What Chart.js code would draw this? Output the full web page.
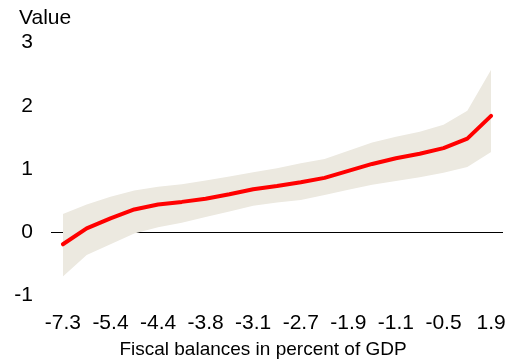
<!DOCTYPE html>
<html>
<head>
<meta charset="utf-8">
<script src="https://cdn.jsdelivr.net/npm/chart.js@4/dist/chart.umd.min.js"></script>
<style>
  html, body { margin: 0; padding: 0; background: #ffffff; }
  #wrap { width: 509px; height: 364px; }
</style>
</head>
<body>
<div id="wrap"><canvas id="c"></canvas></div>
<script>
const categories = ['-7.3','','-5.4','','-4.4','','-3.8','','-3.1','','-2.7','','-1.9','','-1.1','','-0.5','','1.9'];
const estimate = [-0.19, 0.06, 0.22, 0.36, 0.44, 0.48, 0.53, 0.60, 0.68, 0.73, 0.79, 0.86, 0.97, 1.08, 1.17, 1.24, 1.33, 1.48, 1.84];
const upperBand = [0.29, 0.44, 0.56, 0.66, 0.72, 0.76, 0.82, 0.88, 0.95, 1.01, 1.09, 1.16, 1.29, 1.42, 1.51, 1.59, 1.70, 1.92, 2.57];
const lowerBand = [-0.70, -0.36, -0.19, -0.02, 0.08, 0.15, 0.24, 0.33, 0.42, 0.47, 0.51, 0.59, 0.67, 0.75, 0.81, 0.87, 0.94, 1.03, 1.27];
const yTicks = [-1, 0, 1, 2, 3];
const xTitle = 'Fiscal balances in percent of GDP';
const yTitle = 'Value';

const FAMILY = '"Liberation Sans", Arial, sans-serif';
const TICK_FONT = { family: FAMILY, size: 21 };
const BAND = 'rgb(236,233,224)';

const axisTitlesPlugin = {
  id: 'axisTitles',
  afterDraw(chart) {
    const ctx = chart.ctx;
    const ys = chart.scales.y;
    const area = chart.chartArea;
    ctx.save();
    ctx.fillStyle = '#000';
    ctx.textBaseline = 'middle';
    ctx.font = '21px ' + FAMILY;
    ctx.textAlign = 'left';
    ctx.fillText(yTitle, ys.left + 6, area.top - 24);
    ctx.font = '19px ' + FAMILY;
    ctx.textAlign = 'center';
    ctx.fillText(xTitle, (area.left + area.right) / 2 - 14, area.bottom + 54.5);
    ctx.restore();
  }
};

new Chart(document.getElementById('c'), {
  type: 'line',
  data: {
    labels: categories,
    datasets: [
      { data: upperBand, borderWidth: 0, pointRadius: 0, backgroundColor: BAND, borderColor: BAND, fill: '+1', order: 3 },
      { data: lowerBand, borderWidth: 0, pointRadius: 0, backgroundColor: BAND, borderColor: BAND, fill: false, order: 2 },
      { data: estimate, borderWidth: 4, pointRadius: 0, borderColor: '#ff0000', fill: false, borderCapStyle: 'round', borderJoinStyle: 'round', order: 1 }
    ]
  },
  plugins: [axisTitlesPlugin],
  options: {
    responsive: true,
    maintainAspectRatio: false,
    animation: false,
    events: [],
    layout: { padding: { left: 13, right: 6, top: 42.5, bottom: 13.3 } },
    plugins: {
      legend: { display: false },
      tooltip: { enabled: false },
      title: { display: false }
    },
    scales: {
      x: {
        offset: true,
        afterFit: (s) => { s.paddingLeft = 0; s.paddingRight = 0; },
        grid: { display: false, drawTicks: false },
        border: { display: false },
        ticks: { color: '#000', font: TICK_FONT, autoSkip: false, maxRotation: 0, padding: 15 }
      },
      y: {
        min: -1, max: 3,
        z: 1,
        afterFit: (s) => { s.width = 38; },
        afterBuildTicks: (s) => { s.ticks = yTicks.map(v => ({ value: v })); },
        grid: {
          drawTicks: false,
          color: (ctx) => (ctx.tick && ctx.tick.value === 0) ? '#000000' : 'rgba(0,0,0,0)',
          lineWidth: 1
        },
        border: { display: false },
        ticks: { color: '#000', font: TICK_FONT, padding: 18, callback: (v) => String(v) }
      }
    }
  }
});
</script>
</body>
</html>
